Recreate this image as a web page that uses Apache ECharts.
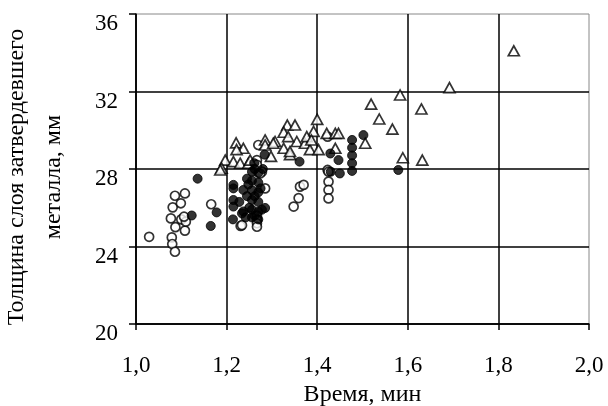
<!DOCTYPE html>
<html>
<head>
<meta charset="utf-8">
<script src="https://cdn.jsdelivr.net/npm/echarts@6/dist/echarts.min.js"></script>
<style>
  html, body { margin: 0; padding: 0; background: #fff; }
  #chart { width: 608px; height: 406px; }
</style>
</head>
<body>
<div id="chart"></div>
<script>
// время, мин / толщина слоя, мм
const openX = [1.029, 1.079, 1.080, 1.086, 1.086, 1.108, 1.081, 1.099, 1.077, 1.100, 1.087, 1.108, 1.110, 1.106,
  1.166, 1.231, 1.234, 1.270, 1.267, 1.278, 1.285, 1.274, 1.267, 1.362, 1.370, 1.359, 1.348,
  1.267, 1.267, 1.267, 1.267, 1.423, 1.423, 1.425, 1.425, 1.425, 1.425]
const openY = [24.50, 24.47, 24.13, 23.73, 26.62, 26.74, 26.02, 26.23, 25.45, 25.40, 25.00, 24.82, 25.28, 25.54,
  26.18, 25.06, 25.10, 29.24, 28.46, 27.86, 27.00, 27.77, 28.22, 27.09, 27.18, 26.50, 26.06,
  25.60, 25.37, 25.20, 25.02, 29.67, 27.95, 27.35, 26.92, 26.48, 27.86]

const filledX = [1.136, 1.123, 1.178, 1.165, 1.215, 1.215, 1.214, 1.215, 1.215, 1.234, 1.237, 1.237,
  1.256, 1.256, 1.256, 1.256, 1.256, 1.256, 1.270, 1.270, 1.270, 1.270, 1.270, 1.270,
  1.278, 1.285, 1.284, 1.245, 1.245, 1.261, 1.361, 1.429, 1.447, 1.450, 1.430,
  1.477, 1.477, 1.477, 1.477, 1.477, 1.502, 1.579,
  1.262, 1.248, 1.262, 1.250, 1.275, 1.262, 1.242, 1.280, 1.228]
const filledY = [27.50, 25.60, 25.76, 25.06, 27.00, 26.40, 25.40, 27.18, 26.06, 25.71, 26.92, 25.81,
  27.86, 27.40, 26.90, 26.40, 25.90, 25.50, 27.80, 27.30, 26.80, 26.30, 25.80, 25.40,
  25.90, 25.99, 28.74, 27.50, 26.60, 28.30, 28.38, 28.80, 28.46, 27.77, 27.86,
  29.50, 29.10, 28.70, 28.30, 27.90, 29.75, 27.95,
  28.00, 27.20, 26.60, 26.00, 27.00, 25.60, 25.50, 28.00, 26.30]

const triX = [1.583, 1.630, 1.519, 1.537, 1.566, 1.589, 1.632, 1.834, 1.692, 1.400, 1.334, 1.351,
  1.326, 1.392, 1.421, 1.440, 1.285, 1.307, 1.221, 1.237, 1.222, 1.355, 1.373, 1.326, 1.384,
  1.403, 1.340, 1.298, 1.197, 1.215, 1.230, 1.248, 1.189, 1.440, 1.377, 1.387, 1.336, 1.340,
  1.506, 1.447, 1.285, 1.303, 1.252, 1.186]
const triY = [31.82, 31.10, 31.35, 30.58, 30.06, 28.58, 28.46, 34.10, 32.20, 30.56, 30.27, 30.27,
  29.90, 29.94, 29.84, 29.84, 29.50, 29.42, 29.35, 29.07, 29.00, 29.42, 29.33, 29.07, 29.00,
  29.00, 28.74, 28.65, 28.46, 28.38, 28.30, 28.30, 28.04, 29.07, 29.67, 29.50, 29.67, 28.90,
  29.33, 29.84, 29.24, 29.33, 28.46, 27.95]

const xTicks = ['1,0', '1,2', '1,4', '1,6', '1,8', '2,0']

const pairs = (xs, ys) => xs.map((x, i) => [x, ys[i]])
const font = "'Liberation Serif', 'Times New Roman', serif"

const chart = echarts.init(document.getElementById('chart'), null, { renderer: 'canvas' })

const option = {
  backgroundColor: '#fff',
  animation: false,
  textStyle: { fontFamily: font, color: '#000' },
  grid: {
    left: 136, right: 19, top: 14, bottom: 82,
    show: true, borderColor: '#888', borderWidth: 1,
    outerBoundsMode: 'none'
  },
  xAxis: {
    type: 'value',
    min: 1.0, max: 2.0, interval: 0.2,
    name: 'Время, мин',
    nameLocation: 'middle',
    nameGap: 59,
    nameTextStyle: { fontFamily: font, fontSize: 24, color: '#000' },
    axisLine: { show: true, lineStyle: { color: '#000', width: 1.5 } },
    axisTick: { show: true, length: 6, lineStyle: { color: '#000', width: 1.5 } },
    axisLabel: {
      fontFamily: font, fontSize: 23, color: '#000', margin: 30,
      formatter: (v) => xTicks[Math.round((v - 1) / 0.2)]
    },
    splitLine: { show: true, showMaxLine: false, lineStyle: { color: '#000', width: 1.5 } }
  },
  yAxis: {
    type: 'value',
    min: 20, max: 36, interval: 4,
    name: 'Толщина слоя затвердевшего\nметалла, мм',
    nameLocation: 'middle',
    nameGap: 64,
    nameTextStyle: { fontFamily: font, fontSize: 24, color: '#000', lineHeight: 37, padding: [0, 16, 0, 0] },
    axisLine: { show: true, lineStyle: { color: '#000', width: 1.5 } },
    axisTick: { show: true, length: 7, lineStyle: { color: '#000', width: 1.5 } },
    axisLabel: { fontFamily: font, fontSize: 23, color: '#000', margin: 18, verticalAlign: 'top', lineHeight: 20 },
    splitLine: { show: true, showMaxLine: false, lineStyle: { color: '#000', width: 1.5 } }
  },
  series: [
    {
      name: 'open',
      type: 'scatter',
      symbol: 'circle',
      symbolSize: 9,
      itemStyle: { color: '#fff', borderColor: '#000', borderWidth: 1.7 },
      data: pairs(openX, openY)
    },
    {
      name: 'triangle',
      type: 'scatter',
      symbol: 'triangle',
      symbolSize: [11, 10],
      itemStyle: { color: '#fff', borderColor: '#000', borderWidth: 1.7 },
      data: pairs(triX, triY)
    },
    {
      name: 'filled',
      type: 'scatter',
      symbol: 'circle',
      symbolSize: 9,
      itemStyle: { color: '#000', borderColor: '#000', borderWidth: 1 },
      data: pairs(filledX, filledY)
    }
  ]
}

chart.setOption(option)
</script>
</body>
</html>
